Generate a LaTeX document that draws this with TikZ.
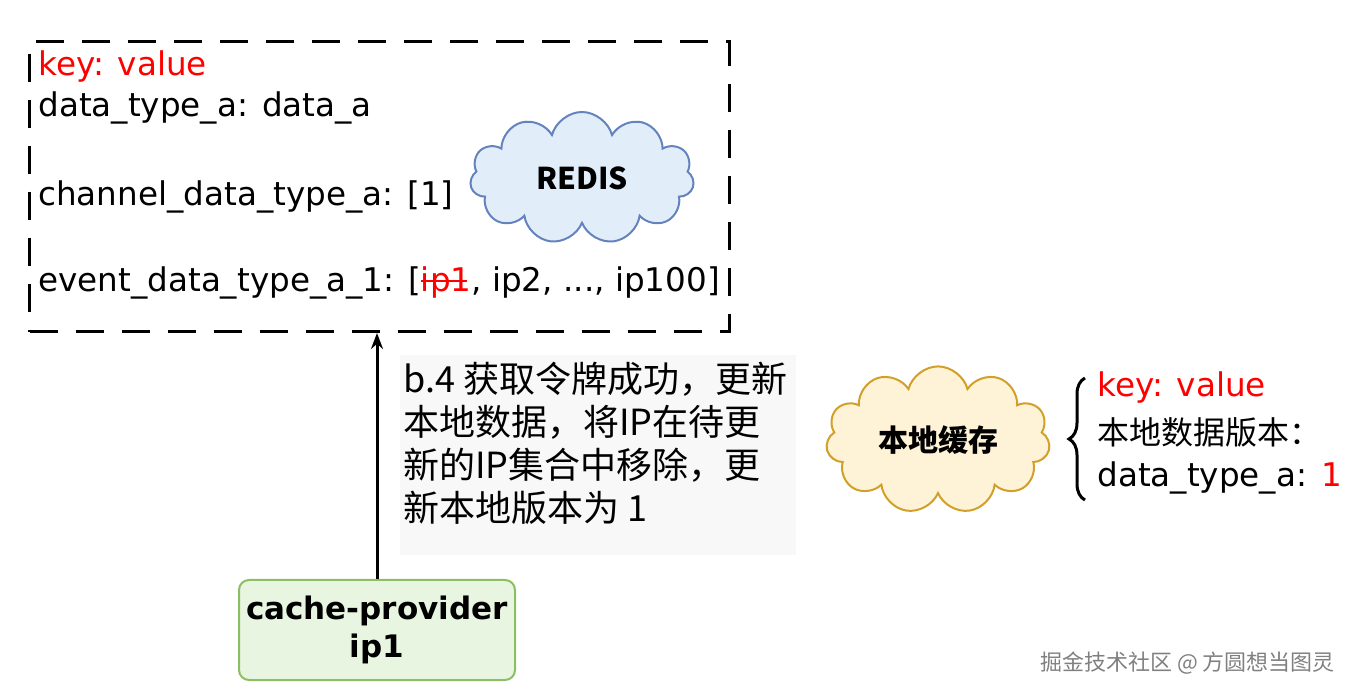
\documentclass[tikz,border=0pt]{standalone}
\usepackage{fontspec}
\setmainfont{DejaVu Sans}
\newfontfamily\cjk{Noto Sans CJK SC}
\usetikzlibrary{shapes.symbols,decorations.pathreplacing,arrows.meta}
\begin{document}
\begin{tikzpicture}[x=0.5pt,y=-0.5pt,
 txt/.style={anchor=west,font=\fontsize{16.3}{18}\selectfont,inner sep=0},
 cn/.style={font=\cjk\fontsize{18}{21.5}\selectfont},
 cloudy/.style={cloud,cloud puffs=11,aspect=1.7,line width=1pt,font=\cjk\bfseries\fontsize{15}{16}\selectfont}]
\useasboundingbox (0,0) rectangle (1362,700);
\node[draw,dashed,line width=1.6pt,dash pattern=on 14pt off 9pt,minimum width=350pt,minimum height=145pt,anchor=north west] (box) at (28,40) {};
\node[txt,red] (k1) at (38,67) {key: value};
\node[txt] (l1) at (38,108) {data\_type\_a: data\_a};
\node[txt] (l2) at (38,197) {channel\_data\_type\_a: [1]};
\node[txt] (l3) at (38,283) {event\_data\_type\_a\_1: [\textcolor{red}{\rlap{\rule[0.3em]{1.4em}{0.8pt}}ip1}, ip2, ..., ip100]};
\node[cloudy,draw={rgb,255:red,100;green,130;blue,190},fill={rgb,255:red,225;green,238;blue,250},minimum width=112pt,minimum height=66pt] (redis) at (582,178) {REDIS};
\node[draw={rgb,255:red,140;green,190;blue,100},fill={rgb,255:red,232;green,245;blue,225},line width=1pt,rounded corners=5pt,minimum width=138pt,minimum height=50pt,align=center,font=\bfseries\fontsize{15.5}{19}\selectfont] (cp) at (377,630) {cache-provider\\ip1};
\coordinate (top) at (377,333);
\draw[line width=1.5pt,-{Stealth[length=8pt]}] (cp.north) -- (top);
\node[fill={rgb,255:red,248;green,248;blue,248},anchor=north west,minimum width=198pt,minimum height=100pt] (lblbg) at (400,355) {};
\node[cn,anchor=north west,align=left,inner sep=0] (lbl) at (403,362) {b.4 获取令牌成功，更新\\本地数据，将IP在待更\\新的IP集合中移除，更\\新本地版本为 1};
\node[cloudy,draw={rgb,255:red,210;green,160;blue,40},fill={rgb,255:red,255;green,243;blue,215},minimum width=112pt,minimum height=64pt] (local) at (938,440) {本地缓存};
\draw[line width=1.5pt,decorate,decoration={brace,amplitude=8pt}] (1085,500) -- node (br) {} (1085,378);
\node[txt,red] (k2) at (1097,388) {key: value};
\node[txt,font=\cjk\fontsize{16}{18}\selectfont] (m1) at (1097,432) {本地数据版本：};
\node[txt] (m2) at (1097,478) {data\_type\_a: \textcolor{red}{1}};
\node[anchor=east,text=gray,font=\cjk\fontsize{11}{13}\selectfont] (wm) at (1342,663) {掘金技术社区 @ 方圆想当图灵};
\end{tikzpicture}
\end{document}
